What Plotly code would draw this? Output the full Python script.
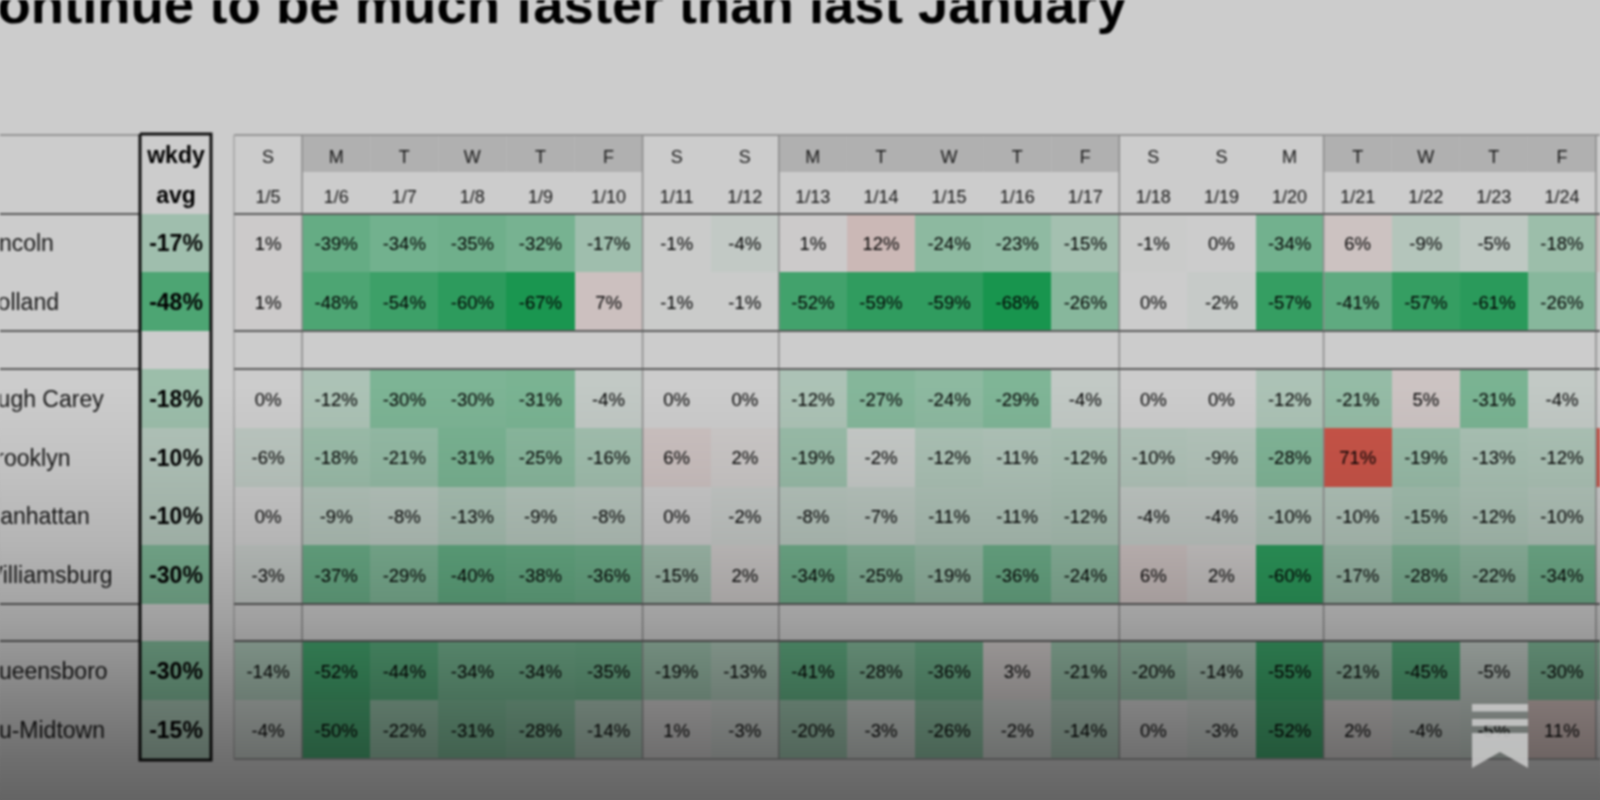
import plotly.graph_objects as go

TITLE = "continue to be much faster than last January"
weekdays = ["S","M","T","W","T","F","S","S","M","T","W","T","F","S","S","M","T","W","T","F","S"]
dates = ["1/5","1/6","1/7","1/8","1/9","1/10","1/11","1/12","1/13","1/14","1/15","1/16","1/17",
         "1/18","1/19","1/20","1/21","1/22","1/23","1/24","1/25"]
shaded = [0,1,1,1,1,1,0,0,1,1,1,1,1,0,0,0,1,1,1,1,0]
roads = ["Lincoln","Holland","Hugh Carey","Brooklyn","Manhattan","Williamsburg","Queensboro","Qu-Midtown"]
avg = [-17,-48,-18,-10,-10,-30,-30,-15]
lincoln =      [1,-39,-34,-35,-32,-17,-1,-4,1,12,-24,-23,-15,-1,0,-34,6,-9,-5,-18,8]
holland =      [1,-48,-54,-60,-67,7,-1,-1,-52,-59,-59,-68,-26,0,-2,-57,-41,-57,-61,-26,0]
hugh_carey =   [0,-12,-30,-30,-31,-4,0,0,-12,-27,-24,-29,-4,0,0,-12,-21,5,-31,-4,0]
brooklyn =     [-6,-18,-21,-31,-25,-16,6,2,-19,-2,-12,-11,-12,-10,-9,-28,71,-19,-13,-12,70]
manhattan =    [0,-9,-8,-13,-9,-8,0,-2,-8,-7,-11,-11,-12,-4,-4,-10,-10,-15,-12,-10,0]
williamsburg = [-3,-37,-29,-40,-38,-36,-15,2,-34,-25,-19,-36,-24,6,2,-60,-17,-28,-22,-34,1]
queensboro =   [-14,-52,-44,-34,-34,-35,-19,-13,-41,-28,-36,3,-21,-20,-14,-55,-21,-45,-5,-30,-25]
midtown =      [-4,-50,-22,-31,-28,-14,1,-3,-20,-3,-26,-2,-14,0,-3,-52,2,-4,-5,11,0]
table = [lincoln, holland, hugh_carey, brooklyn, manhattan, williamsburg, queensboro, midtown]

# page geometry (pixels)
W, H = 1600, 800
COL0, COLW = 234.0, 68.1
AVG_L, AVG_R = 141.0, 211.0
HEAD_TOP, HEAD_MID, HEAD_BOT = 135.0, 172.0, 214.0
edges_y = [214, 272, 331, 369, 428, 486.5, 545, 604, 641, 700, 759]
row_bins = [0, 1, 3, 4, 5, 6, 8, 9]          # index of each road's bin in edges_y
ZMIN, ZMAX = -68, 71
mid = -ZMIN / (ZMAX - ZMIN)
SCALE = [[0, "rgb(30,186,98)"], [mid, "rgb(255,255,255)"], [1, "rgb(250,105,90)"]]
GRAY_STOPS = [(0, 204), (385, 204), (470, 193), (545, 180), (620, 160), (700, 130), (760, 110), (800, 100)]
TEXT_DY = 2.5

col_edges = [COL0 + i * COLW for i in range(len(dates) + 1)]
col_mid = [COL0 + (i + .5) * COLW for i in range(len(dates))]
row_mid = [(edges_y[b] + edges_y[b + 1]) / 2 + TEXT_DY for b in row_bins]
avg_mid = (AVG_L + AVG_R) / 2

z = [[None] * len(dates) for _ in range(len(edges_y) - 1)]
za = [[None] for _ in range(len(edges_y) - 1)]
for r, b in enumerate(row_bins):
    z[b] = table[r]
    za[b] = [avg[r]]

fig = go.Figure()
hm = dict(colorscale=SCALE, zmin=ZMIN, zmax=ZMAX, showscale=False, hoverinfo="skip")
fig.add_trace(go.Heatmap(x=col_edges, y=edges_y, z=z, **hm))
fig.add_trace(go.Heatmap(x=[AVG_L, AVG_R], y=edges_y, z=za, **hm))

def seg_trace(segs, color, width):
    xs, ys = [], []
    for (x0, y0, x1, y1) in segs:
        xs += [x0, x1, None]
        ys += [y0, y1, None]
    return go.Scatter(x=xs, y=ys, mode="lines", line=dict(color=color, width=width),
                      hoverinfo="skip", showlegend=False)

hl = [HEAD_BOT, 331, 369, 604, 641]
dark = []
for y in hl:
    dark += [(0, y, AVG_L, y), (COL0, y, W, y)]
light = [(COL0, HEAD_TOP, W, HEAD_TOP), (COL0, 759, W, 759), (0, 135, AVG_L, 135)]
left = [(COL0, HEAD_TOP, COL0, 759)]
weekly = []
for i in range(1, len(dates)):
    if shaded[i] != shaded[i - 1]:
        weekly.append((col_edges[i], HEAD_TOP, col_edges[i], 759))
fig.add_trace(seg_trace(light, "#bcbcbc", 2))
fig.add_trace(seg_trace(left, "#cccccc", 1.5))
fig.add_trace(seg_trace(weekly, "#acacac", 1.5))
fig.add_trace(seg_trace(dark, "#707070", 2))

def text_trace(x, y, t, size, color="#000000", bold=False, pos="middle center", family="Liberation Sans"):
    return go.Scatter(x=x, y=y, text=t, mode="text", textposition=pos, hoverinfo="skip",
                      textfont=dict(size=size, color=color, family=family, weight=700 if bold else 400),
                      showlegend=False)

n_vis = len(dates) - 1
fig.add_trace(text_trace(col_mid[:n_vis], [158] * n_vis, weekdays[:n_vis], 18, "#1c1c1c"))
fig.add_trace(text_trace(col_mid[:n_vis], [198] * n_vis, dates[:n_vis], 18, "#1c1c1c"))
cx, cy, ct = [], [], []
for r, vals in enumerate(table):
    for c in range(n_vis):
        cx.append(col_mid[c]); cy.append(row_mid[r]); ct.append(f"{vals[c]}%")
fig.add_trace(text_trace(cx, cy, ct, 18.5))
fig.add_trace(text_trace([avg_mid] * 2, [157, 197], ["wkdy", "avg"], 23, bold=True))
fig.add_trace(text_trace([avg_mid] * len(avg), row_mid, [f"{v}%" for v in avg], 23, bold=True))
fig.add_trace(text_trace([-19] * len(roads), row_mid, roads, 23, "#1c1c1c", pos="middle right"))
fig.add_trace(text_trace([1127], [9], [TITLE], 54.5, bold=True, pos="middle left"))

fig.add_trace(go.Scatter(x=[AVG_L - 1, AVG_R, AVG_R, AVG_L - 1, AVG_L - 1],
                         y=[134, 134, 760, 760, 134], mode="lines",
                         line=dict(color="#141414", width=3), hoverinfo="skip", showlegend=False))

stops = [[y / H, f"rgba(0,0,0,{1 - g / 255:.3f})"] for y, g in GRAY_STOPS]
fig.add_trace(go.Scatter(x=[0, W, W, 0, 0], y=[0, 0, H, H, 0], mode="none", fill="toself",
                         fillgradient=dict(type="vertical", colorscale=stops, start=0, stop=H),
                         hoverinfo="skip", showlegend=False))

shapes = []
for i, s in enumerate(shaded):
    if s:
        shapes.append(dict(type="rect", layer="below", x0=col_edges[i], x1=col_edges[i + 1],
                           y0=HEAD_TOP, y1=HEAD_MID, fillcolor="#dcdcdc", line_width=0))
ICON = "rgba(200,200,200,0.9)"
shapes += [
    dict(type="rect", x0=1472, x1=1528, y0=704, y1=711.5, fillcolor=ICON, line_width=0),
    dict(type="rect", x0=1472, x1=1528, y0=719, y1=726, fillcolor=ICON, line_width=0),
    dict(type="path", path="M1472 733 L1528 733 L1528 768 L1500 752 L1472 768 Z", fillcolor=ICON, line_width=0),
]

ax = dict(visible=False, fixedrange=True, showgrid=False, zeroline=False)
fig.update_layout(width=W, height=H, margin=dict(l=0, r=0, t=0, b=0), showlegend=False,
                  paper_bgcolor="white", plot_bgcolor="white", shapes=shapes,
                  xaxis=dict(range=[0, W], **ax), yaxis=dict(range=[H, 0], **ax))
fig.write_html("out.html", config=dict(displayModeBar=False),
               post_script="document.body.style.margin='0';document.body.style.overflow='hidden';"
                           "document.body.style.background='linear-gradient(#ccc,#ccc 50%,#a0a0a0 78%,#666)';"
                           "document.querySelector('.plotly-graph-div').style.filter='blur(0.9px)';")
